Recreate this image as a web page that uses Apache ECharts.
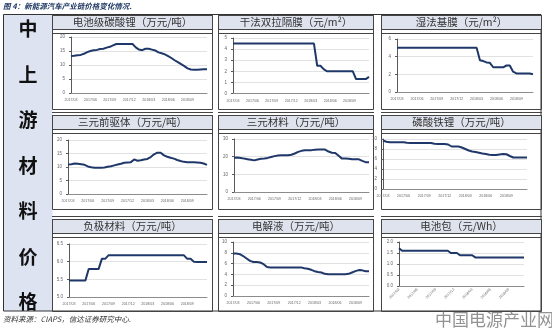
<!DOCTYPE html>
<html><head><meta charset="utf-8">
<script src="https://cdn.jsdelivr.net/npm/echarts@6/dist/echarts.min.js"></script>
<style>html,body{margin:0;padding:0;background:#fff;}#c{width:552px;height:330px;}</style>
</head><body><div id="c"></div>
<script>
const periods = ['2017/03/01','2017/03/16','2017/04/01','2017/04/16','2017/05/01','2017/05/16','2017/06/01','2017/06/16','2017/07/01','2017/07/16','2017/08/01','2017/08/16','2017/09/01','2017/09/16','2017/10/01','2017/10/16','2017/11/01','2017/11/16','2017/12/01','2017/12/16','2018/01/01','2018/01/16','2018/02/01','2018/02/16','2018/03/01','2018/03/16','2018/04/01','2018/04/16','2018/05/01','2018/05/16','2018/06/01','2018/06/16','2018/07/01','2018/07/16','2018/08/01','2018/08/16','2018/09/01','2018/09/16','2018/10/01','2018/10/16','2018/11/01','2018/11/16','2018/12/01'];
const tickLabels = ['2017/03','2017/06','2017/09','2017/12','2018/03','2018/06','2018/09'];
const titles = ['电池级碳酸锂（万元/吨）','干法双拉隔膜（元/m²）','湿法基膜（元/m²）','三元前驱体（万元/吨）','三元材料（万元/吨）','磷酸铁锂（万元/吨）','负极材料（万元/吨）','电解液（万元/吨）','电池包（元/Wh）'];
const sideChars = ['中','上','游','材','料','价','格'];

const lithiumCarbonate = [13.2,13.3,13.5,13.6,14.0,14.6,15.0,15.3,15.4,15.7,15.8,16.2,16.5,17.0,17.5,17.5,17.5,17.5,17.5,17.5,16.3,15.5,15.3,15.8,15.8,15.5,15.2,14.5,14.2,13.8,13.2,12.5,11.7,11.0,10.3,9.6,8.8,8.4,8.3,8.3,8.4,8.5,8.5];
const dryFilm = [4.5,4.5,4.5,4.5,4.5,4.5,4.5,4.5,4.5,4.5,4.5,4.5,4.5,4.5,4.5,4.5,4.5,4.5,4.5,4.5,4.5,4.5,4.5,4.5,4.5,4.5,2.5,2.5,2.2,2.0,2.0,2.0,2.0,2.0,2.0,2.0,2.0,2.0,1.3,1.3,1.3,1.3,1.5];
const wetFilm = [5,5,5,5,5,5,5,5,5,5,5,5,5,5,5,5,5,5,5,5,5,5,5,5,5,3.6,3.5,3.35,3.3,2.8,2.8,2.8,2.8,3.0,3.0,2.3,2.1,2.1,2.1,2.1,2.1,2.0];
const nmcPrecursor = [10.9,11.0,11.3,11.2,11.0,10.8,10.2,9.9,9.7,9.7,9.7,9.8,10.1,10.3,10.6,10.9,11.2,11.6,11.7,11.8,12.8,12.3,12.5,12.8,13.0,13.7,14.7,15.3,15.3,14.3,13.8,13.4,13.1,12.6,12.2,11.9,11.8,11.8,11.8,11.7,11.6,11.3,10.8];
const nmcCathode = [19.4,19.5,19.3,18.9,18.6,18.3,17.9,18.4,18.8,19.0,19.3,19.8,20.3,20.6,20.8,20.8,20.8,21.1,21.8,22.7,23.3,23.6,23.7,23.7,23.9,24.1,24.1,24.0,22.9,22.2,22.1,20.5,18.9,18.9,18.8,18.5,18.5,18.5,17.6,16.9,16.8];
const lfp = [9.7,9.45,9.35,9.35,9.35,9.35,9.35,9.25,9.2,9.2,9.2,9.2,9.2,9.2,9.2,9.05,9.0,9.0,9.0,8.9,8.5,8.5,8.5,8.3,8.0,7.7,7.5,7.4,7.25,7.1,7.0,6.85,6.8,6.8,6.9,7.0,6.95,6.6,6.3,6.3,6.3,6.3,6.3];
const anode = [5.47,5.47,5.47,5.47,5.47,5.47,5.79,5.79,5.79,5.79,6.08,6.08,6.18,6.18,6.18,6.18,6.18,6.18,6.18,6.18,6.18,6.18,6.18,6.18,6.18,6.18,6.18,6.18,6.18,6.18,6.18,6.18,6.18,6.18,6.18,6.18,6.08,6.08,6.0,5.99,5.99,5.99,5.99];
const electrolyte = [7.85,7.85,7.75,7.4,6.95,6.5,6.3,6.3,6.2,5.9,5.35,5.3,5.3,5.3,5.3,5.3,5.3,5.3,5.3,5.3,5.3,5.15,5.05,4.85,4.6,4.45,4.35,4.1,4.05,4.05,4.05,4.05,4.05,4.05,4.1,4.35,4.6,4.8,4.75,4.6,4.6];
const batteryPack = [1.72,1.6,1.6,1.6,1.6,1.6,1.6,1.6,1.6,1.6,1.6,1.6,1.6,1.6,1.6,1.6,1.6,1.5,1.5,1.5,1.4,1.4,1.4,1.4,1.4,1.3,1.3,1.3,1.3,1.3,1.3,1.3,1.3,1.3,1.3,1.3,1.3,1.3,1.3,1.3,1.3,1.3];

const seriesData = [lithiumCarbonate, dryFilm, wetFilm, nmcPrecursor, nmcCathode, lfp, anode, electrolyte, batteryPack];
const yScales = [[0,20,5],[0,5,1],[0,6,2],[0,20,5],[0,30,10],[0,10,2],[5,6.5,0.5],[0,10,2],[0,2,0.5]];
const yDecimals = [0,0,0,0,0,0,1,0,1];

// layout
const grids = [
  [71,37,136,56],[233,38,136,55.5],[397,39,136,53],
  [68,140,139,54],[234,139,135,53],[383,139,144,50],
  [69,244,138,53],[233,242,136,54],[399,242,125,44]
];
const cols = [[52,212],[218,373],[381,541]];
const rows = [[15,109],[115,209],[219,311]];
const navy = '#1f3869';

const option = {animation:false, grid:[], xAxis:[], yAxis:[], series:[], graphic:[]};
const g = option.graphic;
g.push({type:'rect',shape:{x:3.5,y:14.5,width:49,height:296.5},style:{fill:'#dde3f1',stroke:null},z:-10});
g.push({type:'rect',shape:{x:3.5,y:14.5,width:537.5,height:296.5},style:{fill:null,stroke:'#333',lineWidth:1},z:-5});
sideChars.forEach((ch,i)=>{
  g.push({type:'text',x:28,y:29+i*45.5,style:{text:ch,font:'bold 19px "Noto Sans CJK SC"',fill:'#111',align:'center',verticalAlign:'middle',textAlign:'center',textVerticalAlign:'middle'}});
});
for(let r=0;r<3;r++){
  for(let c=0;c<3;c++){
    const [x0,x1]=cols[c]; const [t,b]=rows[r];
    g.push({type:'rect',shape:{x:x0+0.5,y:t+0.5,width:x1-x0,height:14},style:{fill:'#dfe3ee',stroke:'#444',lineWidth:1},z:-4});
    g.push({type:'rect',shape:{x:x0+0.5,y:t+0.5,width:x1-x0,height:b-t},style:{fill:null,stroke:'#444',lineWidth:1},z:-4});
    g.push({type:'line',shape:{x1:x0,y1:t+18.5,x2:x1+1,y2:t+18.5},style:{stroke:'#444',lineWidth:1},z:-4});
    if(r>0) g.push({type:'line',shape:{x1:x0,y1:t-2.5,x2:x1+1,y2:t-2.5},style:{stroke:'#444',lineWidth:1},z:-4});
    g.push({type:'text',x:(x0+x1)/2+0.5,y:t+7.5,style:{text:titles[r*3+c],font:'10.5px "Noto Sans CJK SC"',fill:'#333',align:'center',verticalAlign:'middle',textAlign:'center',textVerticalAlign:'middle'}});
  }
}
g.push({type:'text',x:3,y:6,style:{text:'图 4：新能源汽车产业链价格变化情况.',font:'italic bold 7.5px "Noto Sans CJK SC"',fill:'#1f3864',align:'left',verticalAlign:'middle',textAlign:'left',textVerticalAlign:'middle'}});
g.push({type:'text',x:3,y:319,style:{text:'资料来源：CIAPS，信达证券研究中心.',font:'italic 7.5px "Noto Sans CJK SC"',fill:'#333',align:'left',verticalAlign:'middle',textAlign:'left',textVerticalAlign:'middle'}});
g.push({type:'text',x:435,y:320,z:100,style:{text:'中国电源产业网',font:'17px "Noto Sans CJK SC"',fill:'rgba(110,110,110,0.75)',align:'left',verticalAlign:'middle',textAlign:'left',textVerticalAlign:'middle'}});

seriesData.forEach((data,i)=>{
  const [l,t,w,h]=grids[i];
  option.grid.push({left:l,top:t,width:w,height:h,outerBoundsMode:'none',containLabel:false});
  option.xAxis.push({type:'category',gridIndex:i,data:periods.slice(0,data.length),boundaryGap:false,
    axisLine:{lineStyle:{color:'#8c8c8c',width:1}},axisTick:{show:false},
    axisLabel:{fontSize:3.6,color:'#666',margin:i===8?3:5,rotate:i===8?45:0,
      interval:(idx,v)=>v.endsWith('/01')&&tickLabels.includes(v.slice(0,7)),
      formatter:v=>v.slice(0,7)},
    splitLine:{show:false}});
  const [mn,mx,iv]=yScales[i];
  option.yAxis.push({type:'value',gridIndex:i,min:mn,max:mx,interval:iv,
    axisLine:{show:true,lineStyle:{color:'#595959',width:1}},
    axisTick:{show:true,length:2,lineStyle:{color:'#595959'}},
    axisLabel:{fontSize:4.5,color:'#666',margin:6,formatter:v=>v.toFixed(yDecimals[i])},
    splitLine:{lineStyle:{color:'#dadada',width:0.8}}});
  option.series.push({type:'line',xAxisIndex:i,yAxisIndex:i,data:data,showSymbol:false,symbol:'none',
    lineStyle:{color:navy,width:2},z:5});
});

const chart = echarts.init(document.getElementById('c'));
chart.setOption(option);
</script></body></html>
